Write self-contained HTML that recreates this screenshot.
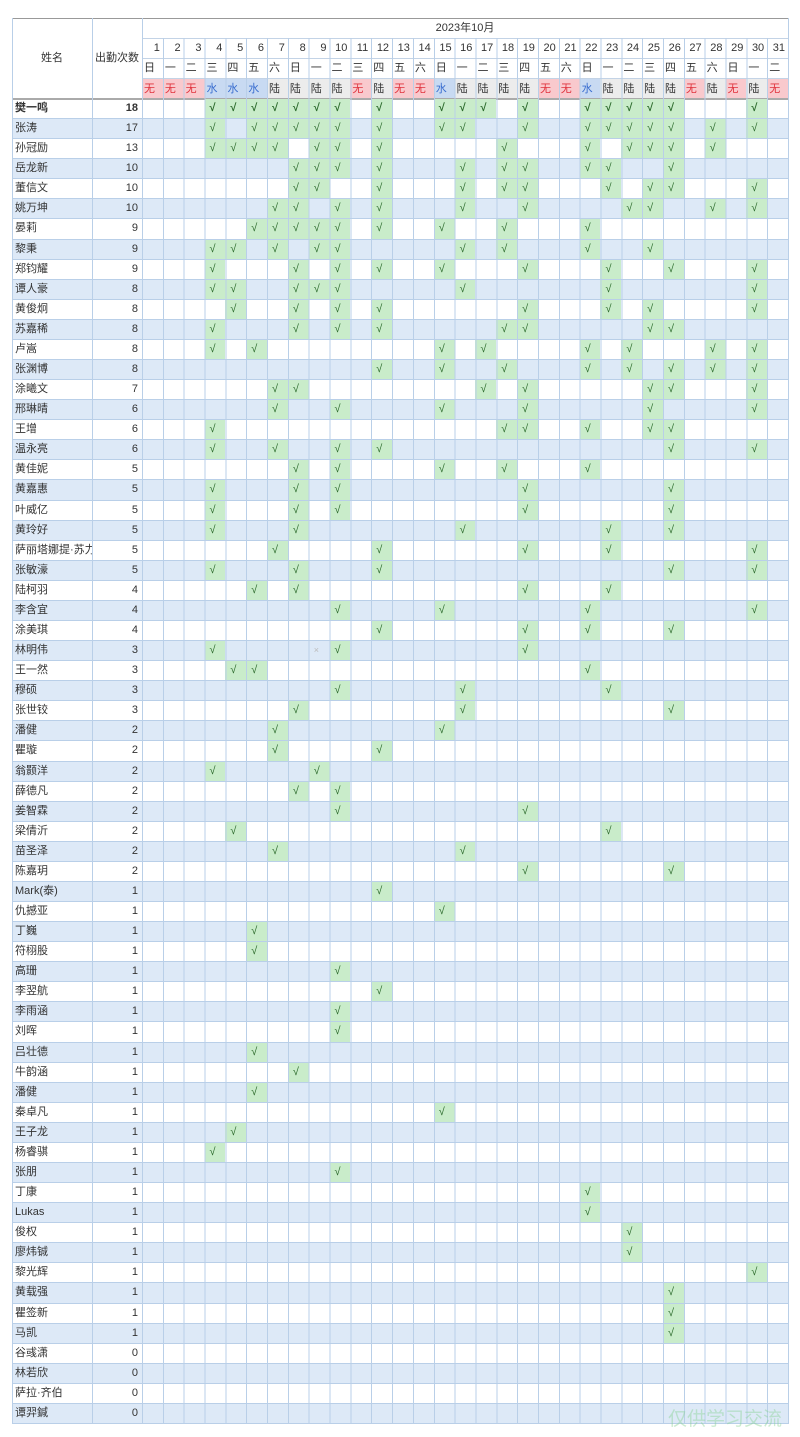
<!DOCTYPE html>
<html><head><meta charset="utf-8">
<style>
*{margin:0;padding:0}
body{width:800px;height:1437px;background:#fff;position:relative;overflow:hidden;font-family:"Liberation Sans","Noto Sans CJK SC",sans-serif;color:#333}
.a{position:absolute}
.r{position:absolute;left:12px;width:776px;height:20.08px;top:calc(99px + var(--i)*20.076px);border-bottom:1px solid #b9cfe8;box-sizing:border-box;font-size:11px}
#rows .r:nth-child(even){background:#dde9f7}
.n{position:absolute;left:3px;top:0;height:19px;line-height:19px;width:77px;overflow:hidden;white-space:nowrap}
.c{position:absolute;left:80px;width:46px;text-align:right;top:0;height:19px;line-height:19px}
.r i{position:absolute;top:0;bottom:0;left:calc(130px + (var(--d) - 1)*20.84px);width:20.84px;background:#c9ecca;font-style:normal;color:#2d6b2d;padding-left:5px;box-sizing:border-box;line-height:19px;font-size:11px}
.r i.x{background:none;color:#bbb;font-size:9px}
.hd span{position:absolute;left:calc(142px + (var(--d) - 1)*20.84px);width:20.84px;box-sizing:border-box;height:20px;line-height:20px;font-size:11px}
.dn span{text-align:right;padding-right:3px}
.wk span{padding-left:2px}
.ty span{height:20px;padding-left:2px}
.ty .w{background:#f9c9cd;color:#e0323c}
.ty .s{background:#c8daf2;color:#3b6fd0}
.ty .l{background:#ececec;color:#333}
.v{position:absolute;left:142px;top:38px;width:647px;height:1386px;background:repeating-linear-gradient(to right,#b9cfe8 0 1px,transparent 1px 20.84px);pointer-events:none}
.vl{position:absolute;width:1px;background:#b9cfe8}
.hl{position:absolute;height:1px;background:#c3d3e6}
</style></head><body>
<div class="hl" style="left:12px;top:18px;width:776px;background:#999"></div>
<div class="a" style="left:142px;top:18px;width:646px;height:20px;line-height:20px;text-align:center;font-size:11px">2023年10月</div>
<div class="a" style="left:12px;top:18px;width:80px;height:81px;line-height:81px;text-align:center;font-size:11px">姓名</div>
<div class="a" style="left:92px;top:18px;width:50px;height:81px;line-height:81px;text-align:center;font-size:11px">出勤次数</div>
<div class="hl" style="left:142px;top:38px;width:646px"></div>
<div class="hl" style="left:142px;top:58px;width:646px"></div>
<div class="hl" style="left:142px;top:78px;width:646px"></div>
<div class="hd dn a" style="left:0;top:38px;width:800px">
<span style="--d:1">1</span><span style="--d:2">2</span><span style="--d:3">3</span><span style="--d:4">4</span><span style="--d:5">5</span><span style="--d:6">6</span><span style="--d:7">7</span><span style="--d:8">8</span><span style="--d:9">9</span><span style="--d:10">10</span><span style="--d:11">11</span><span style="--d:12">12</span><span style="--d:13">13</span><span style="--d:14">14</span><span style="--d:15">15</span><span style="--d:16">16</span><span style="--d:17">17</span><span style="--d:18">18</span><span style="--d:19">19</span><span style="--d:20">20</span><span style="--d:21">21</span><span style="--d:22">22</span><span style="--d:23">23</span><span style="--d:24">24</span><span style="--d:25">25</span><span style="--d:26">26</span><span style="--d:27">27</span><span style="--d:28">28</span><span style="--d:29">29</span><span style="--d:30">30</span><span style="--d:31">31</span>
</div>
<div class="hd wk a" style="left:0;top:58px;width:800px">
<span style="--d:1">日</span><span style="--d:2">一</span><span style="--d:3">二</span><span style="--d:4">三</span><span style="--d:5">四</span><span style="--d:6">五</span><span style="--d:7">六</span><span style="--d:8">日</span><span style="--d:9">一</span><span style="--d:10">二</span><span style="--d:11">三</span><span style="--d:12">四</span><span style="--d:13">五</span><span style="--d:14">六</span><span style="--d:15">日</span><span style="--d:16">一</span><span style="--d:17">二</span><span style="--d:18">三</span><span style="--d:19">四</span><span style="--d:20">五</span><span style="--d:21">六</span><span style="--d:22">日</span><span style="--d:23">一</span><span style="--d:24">二</span><span style="--d:25">三</span><span style="--d:26">四</span><span style="--d:27">五</span><span style="--d:28">六</span><span style="--d:29">日</span><span style="--d:30">一</span><span style="--d:31">二</span>
</div>
<div class="hd ty a" style="left:0;top:78.5px;width:800px">
<span class="w" style="--d:1">无</span><span class="w" style="--d:2">无</span><span class="w" style="--d:3">无</span><span class="s" style="--d:4">水</span><span class="s" style="--d:5">水</span><span class="s" style="--d:6">水</span><span class="l" style="--d:7">陆</span><span class="l" style="--d:8">陆</span><span class="l" style="--d:9">陆</span><span class="l" style="--d:10">陆</span><span class="w" style="--d:11">无</span><span class="l" style="--d:12">陆</span><span class="w" style="--d:13">无</span><span class="w" style="--d:14">无</span><span class="s" style="--d:15">水</span><span class="l" style="--d:16">陆</span><span class="l" style="--d:17">陆</span><span class="l" style="--d:18">陆</span><span class="l" style="--d:19">陆</span><span class="w" style="--d:20">无</span><span class="w" style="--d:21">无</span><span class="s" style="--d:22">水</span><span class="l" style="--d:23">陆</span><span class="l" style="--d:24">陆</span><span class="l" style="--d:25">陆</span><span class="l" style="--d:26">陆</span><span class="w" style="--d:27">无</span><span class="l" style="--d:28">陆</span><span class="w" style="--d:29">无</span><span class="l" style="--d:30">陆</span><span class="w" style="--d:31">无</span>
</div>
<div class="hl" style="left:12px;top:98px;width:776px;height:1.5px;background:#aaa"></div>

<div id="rows">
<div class="r" style="--i:0;font-weight:bold"><span class="n">樊一鸣</span><span class="c">18</span><i style="--d:4">√</i><i style="--d:5">√</i><i style="--d:6">√</i><i style="--d:7">√</i><i style="--d:8">√</i><i style="--d:9">√</i><i style="--d:10">√</i><i style="--d:12">√</i><i style="--d:15">√</i><i style="--d:16">√</i><i style="--d:17">√</i><i style="--d:19">√</i><i style="--d:22">√</i><i style="--d:23">√</i><i style="--d:24">√</i><i style="--d:25">√</i><i style="--d:26">√</i><i style="--d:30">√</i></div>
<div class="r" style="--i:1"><span class="n">张涛</span><span class="c">17</span><i style="--d:4">√</i><i style="--d:6">√</i><i style="--d:7">√</i><i style="--d:8">√</i><i style="--d:9">√</i><i style="--d:10">√</i><i style="--d:12">√</i><i style="--d:15">√</i><i style="--d:16">√</i><i style="--d:19">√</i><i style="--d:22">√</i><i style="--d:23">√</i><i style="--d:24">√</i><i style="--d:25">√</i><i style="--d:26">√</i><i style="--d:28">√</i><i style="--d:30">√</i></div>
<div class="r" style="--i:2"><span class="n">孙冠励</span><span class="c">13</span><i style="--d:4">√</i><i style="--d:5">√</i><i style="--d:6">√</i><i style="--d:7">√</i><i style="--d:9">√</i><i style="--d:10">√</i><i style="--d:12">√</i><i style="--d:18">√</i><i style="--d:22">√</i><i style="--d:24">√</i><i style="--d:25">√</i><i style="--d:26">√</i><i style="--d:28">√</i></div>
<div class="r" style="--i:3"><span class="n">岳龙新</span><span class="c">10</span><i style="--d:8">√</i><i style="--d:9">√</i><i style="--d:10">√</i><i style="--d:12">√</i><i style="--d:16">√</i><i style="--d:18">√</i><i style="--d:19">√</i><i style="--d:22">√</i><i style="--d:23">√</i><i style="--d:26">√</i></div>
<div class="r" style="--i:4"><span class="n">董信文</span><span class="c">10</span><i style="--d:8">√</i><i style="--d:9">√</i><i style="--d:12">√</i><i style="--d:16">√</i><i style="--d:18">√</i><i style="--d:19">√</i><i style="--d:23">√</i><i style="--d:25">√</i><i style="--d:26">√</i><i style="--d:30">√</i></div>
<div class="r" style="--i:5"><span class="n">姚万坤</span><span class="c">10</span><i style="--d:7">√</i><i style="--d:8">√</i><i style="--d:10">√</i><i style="--d:12">√</i><i style="--d:16">√</i><i style="--d:19">√</i><i style="--d:24">√</i><i style="--d:25">√</i><i style="--d:28">√</i><i style="--d:30">√</i></div>
<div class="r" style="--i:6"><span class="n">晏莉</span><span class="c">9</span><i style="--d:6">√</i><i style="--d:7">√</i><i style="--d:8">√</i><i style="--d:9">√</i><i style="--d:10">√</i><i style="--d:12">√</i><i style="--d:15">√</i><i style="--d:18">√</i><i style="--d:22">√</i></div>
<div class="r" style="--i:7"><span class="n">黎秉</span><span class="c">9</span><i style="--d:4">√</i><i style="--d:5">√</i><i style="--d:7">√</i><i style="--d:9">√</i><i style="--d:10">√</i><i style="--d:16">√</i><i style="--d:18">√</i><i style="--d:22">√</i><i style="--d:25">√</i></div>
<div class="r" style="--i:8"><span class="n">郑钧耀</span><span class="c">9</span><i style="--d:4">√</i><i style="--d:8">√</i><i style="--d:10">√</i><i style="--d:12">√</i><i style="--d:15">√</i><i style="--d:19">√</i><i style="--d:23">√</i><i style="--d:26">√</i><i style="--d:30">√</i></div>
<div class="r" style="--i:9"><span class="n">谭人豪</span><span class="c">8</span><i style="--d:4">√</i><i style="--d:5">√</i><i style="--d:8">√</i><i style="--d:9">√</i><i style="--d:10">√</i><i style="--d:16">√</i><i style="--d:23">√</i><i style="--d:30">√</i></div>
<div class="r" style="--i:10"><span class="n">黄俊炯</span><span class="c">8</span><i style="--d:5">√</i><i style="--d:8">√</i><i style="--d:10">√</i><i style="--d:12">√</i><i style="--d:19">√</i><i style="--d:23">√</i><i style="--d:25">√</i><i style="--d:30">√</i></div>
<div class="r" style="--i:11"><span class="n">苏嘉稀</span><span class="c">8</span><i style="--d:4">√</i><i style="--d:8">√</i><i style="--d:10">√</i><i style="--d:12">√</i><i style="--d:18">√</i><i style="--d:19">√</i><i style="--d:25">√</i><i style="--d:26">√</i></div>
<div class="r" style="--i:12"><span class="n">卢嵩</span><span class="c">8</span><i style="--d:4">√</i><i style="--d:6">√</i><i style="--d:15">√</i><i style="--d:17">√</i><i style="--d:22">√</i><i style="--d:24">√</i><i style="--d:28">√</i><i style="--d:30">√</i></div>
<div class="r" style="--i:13"><span class="n">张渊博</span><span class="c">8</span><i style="--d:12">√</i><i style="--d:15">√</i><i style="--d:18">√</i><i style="--d:22">√</i><i style="--d:24">√</i><i style="--d:26">√</i><i style="--d:28">√</i><i style="--d:30">√</i></div>
<div class="r" style="--i:14"><span class="n">涂曦文</span><span class="c">7</span><i style="--d:7">√</i><i style="--d:8">√</i><i style="--d:17">√</i><i style="--d:19">√</i><i style="--d:25">√</i><i style="--d:26">√</i><i style="--d:30">√</i></div>
<div class="r" style="--i:15"><span class="n">邢琳晴</span><span class="c">6</span><i style="--d:7">√</i><i style="--d:10">√</i><i style="--d:15">√</i><i style="--d:19">√</i><i style="--d:25">√</i><i style="--d:30">√</i></div>
<div class="r" style="--i:16"><span class="n">王增</span><span class="c">6</span><i style="--d:4">√</i><i style="--d:18">√</i><i style="--d:19">√</i><i style="--d:22">√</i><i style="--d:25">√</i><i style="--d:26">√</i></div>
<div class="r" style="--i:17"><span class="n">温永亮</span><span class="c">6</span><i style="--d:4">√</i><i style="--d:7">√</i><i style="--d:10">√</i><i style="--d:12">√</i><i style="--d:26">√</i><i style="--d:30">√</i></div>
<div class="r" style="--i:18"><span class="n">黄佳妮</span><span class="c">5</span><i style="--d:8">√</i><i style="--d:10">√</i><i style="--d:15">√</i><i style="--d:18">√</i><i style="--d:22">√</i></div>
<div class="r" style="--i:19"><span class="n">黄嘉惠</span><span class="c">5</span><i style="--d:4">√</i><i style="--d:8">√</i><i style="--d:10">√</i><i style="--d:19">√</i><i style="--d:26">√</i></div>
<div class="r" style="--i:20"><span class="n">叶威亿</span><span class="c">5</span><i style="--d:4">√</i><i style="--d:8">√</i><i style="--d:10">√</i><i style="--d:19">√</i><i style="--d:26">√</i></div>
<div class="r" style="--i:21"><span class="n">黄玲好</span><span class="c">5</span><i style="--d:4">√</i><i style="--d:8">√</i><i style="--d:16">√</i><i style="--d:23">√</i><i style="--d:26">√</i></div>
<div class="r" style="--i:22"><span class="n">萨丽塔娜提·苏力坦</span><span class="c">5</span><i style="--d:7">√</i><i style="--d:12">√</i><i style="--d:19">√</i><i style="--d:23">√</i><i style="--d:30">√</i></div>
<div class="r" style="--i:23"><span class="n">张敏濠</span><span class="c">5</span><i style="--d:4">√</i><i style="--d:8">√</i><i style="--d:12">√</i><i style="--d:26">√</i><i style="--d:30">√</i></div>
<div class="r" style="--i:24"><span class="n">陆柯羽</span><span class="c">4</span><i style="--d:6">√</i><i style="--d:8">√</i><i style="--d:19">√</i><i style="--d:23">√</i></div>
<div class="r" style="--i:25"><span class="n">李含宜</span><span class="c">4</span><i style="--d:10">√</i><i style="--d:15">√</i><i style="--d:22">√</i><i style="--d:30">√</i></div>
<div class="r" style="--i:26"><span class="n">涂美琪</span><span class="c">4</span><i style="--d:12">√</i><i style="--d:19">√</i><i style="--d:22">√</i><i style="--d:26">√</i></div>
<div class="r" style="--i:27"><span class="n">林明伟</span><span class="c">3</span><i style="--d:4">√</i><i class="x" style="--d:9">×</i><i style="--d:10">√</i><i style="--d:19">√</i></div>
<div class="r" style="--i:28"><span class="n">王一然</span><span class="c">3</span><i style="--d:5">√</i><i style="--d:6">√</i><i style="--d:22">√</i></div>
<div class="r" style="--i:29"><span class="n">穆硕</span><span class="c">3</span><i style="--d:10">√</i><i style="--d:16">√</i><i style="--d:23">√</i></div>
<div class="r" style="--i:30"><span class="n">张世铰</span><span class="c">3</span><i style="--d:8">√</i><i style="--d:16">√</i><i style="--d:26">√</i></div>
<div class="r" style="--i:31"><span class="n">潘健</span><span class="c">2</span><i style="--d:7">√</i><i style="--d:15">√</i></div>
<div class="r" style="--i:32"><span class="n">瞿璇</span><span class="c">2</span><i style="--d:7">√</i><i style="--d:12">√</i></div>
<div class="r" style="--i:33"><span class="n">翁颢洋</span><span class="c">2</span><i style="--d:4">√</i><i style="--d:9">√</i></div>
<div class="r" style="--i:34"><span class="n">薛德凡</span><span class="c">2</span><i style="--d:8">√</i><i style="--d:10">√</i></div>
<div class="r" style="--i:35"><span class="n">姜智霖</span><span class="c">2</span><i style="--d:10">√</i><i style="--d:19">√</i></div>
<div class="r" style="--i:36"><span class="n">梁倩沂</span><span class="c">2</span><i style="--d:5">√</i><i style="--d:23">√</i></div>
<div class="r" style="--i:37"><span class="n">苗圣泽</span><span class="c">2</span><i style="--d:7">√</i><i style="--d:16">√</i></div>
<div class="r" style="--i:38"><span class="n">陈嘉玥</span><span class="c">2</span><i style="--d:19">√</i><i style="--d:26">√</i></div>
<div class="r" style="--i:39"><span class="n">Mark(泰)</span><span class="c">1</span><i style="--d:12">√</i></div>
<div class="r" style="--i:40"><span class="n">仇撼亚</span><span class="c">1</span><i style="--d:15">√</i></div>
<div class="r" style="--i:41"><span class="n">丁巍</span><span class="c">1</span><i style="--d:6">√</i></div>
<div class="r" style="--i:42"><span class="n">符栩股</span><span class="c">1</span><i style="--d:6">√</i></div>
<div class="r" style="--i:43"><span class="n">高珊</span><span class="c">1</span><i style="--d:10">√</i></div>
<div class="r" style="--i:44"><span class="n">李翌航</span><span class="c">1</span><i style="--d:12">√</i></div>
<div class="r" style="--i:45"><span class="n">李雨涵</span><span class="c">1</span><i style="--d:10">√</i></div>
<div class="r" style="--i:46"><span class="n">刘晖</span><span class="c">1</span><i style="--d:10">√</i></div>
<div class="r" style="--i:47"><span class="n">吕壮德</span><span class="c">1</span><i style="--d:6">√</i></div>
<div class="r" style="--i:48"><span class="n">牛韵涵</span><span class="c">1</span><i style="--d:8">√</i></div>
<div class="r" style="--i:49"><span class="n">潘健</span><span class="c">1</span><i style="--d:6">√</i></div>
<div class="r" style="--i:50"><span class="n">秦卓凡</span><span class="c">1</span><i style="--d:15">√</i></div>
<div class="r" style="--i:51"><span class="n">王子龙</span><span class="c">1</span><i style="--d:5">√</i></div>
<div class="r" style="--i:52"><span class="n">杨睿骐</span><span class="c">1</span><i style="--d:4">√</i></div>
<div class="r" style="--i:53"><span class="n">张朋</span><span class="c">1</span><i style="--d:10">√</i></div>
<div class="r" style="--i:54"><span class="n">丁康</span><span class="c">1</span><i style="--d:22">√</i></div>
<div class="r" style="--i:55"><span class="n">Lukas</span><span class="c">1</span><i style="--d:22">√</i></div>
<div class="r" style="--i:56"><span class="n">俊权</span><span class="c">1</span><i style="--d:24">√</i></div>
<div class="r" style="--i:57"><span class="n">廖炜铖</span><span class="c">1</span><i style="--d:24">√</i></div>
<div class="r" style="--i:58"><span class="n">黎光辉</span><span class="c">1</span><i style="--d:30">√</i></div>
<div class="r" style="--i:59"><span class="n">黄载强</span><span class="c">1</span><i style="--d:26">√</i></div>
<div class="r" style="--i:60"><span class="n">瞿签新</span><span class="c">1</span><i style="--d:26">√</i></div>
<div class="r" style="--i:61"><span class="n">马凯</span><span class="c">1</span><i style="--d:26">√</i></div>
<div class="r" style="--i:62"><span class="n">谷彧潇</span><span class="c">0</span></div>
<div class="r" style="--i:63"><span class="n">林若欣</span><span class="c">0</span></div>
<div class="r" style="--i:64"><span class="n">萨拉·齐伯</span><span class="c">0</span></div>
<div class="r" style="--i:65"><span class="n">谭羿鍼</span><span class="c">0</span></div>
</div>

<div class="v"></div>
<div class="vl" style="left:12px;top:18px;height:1406px"></div>
<div class="vl" style="left:92px;top:18px;height:1406px"></div>
<div class="vl" style="left:142px;top:18px;height:1406px"></div>
<div class="vl" style="left:788px;top:18px;height:1406px"></div>
<div class="a" style="left:668px;top:1404px;font-size:19px;color:rgba(140,210,150,0.45);white-space:nowrap">仅供学习交流</div>
</body></html>
